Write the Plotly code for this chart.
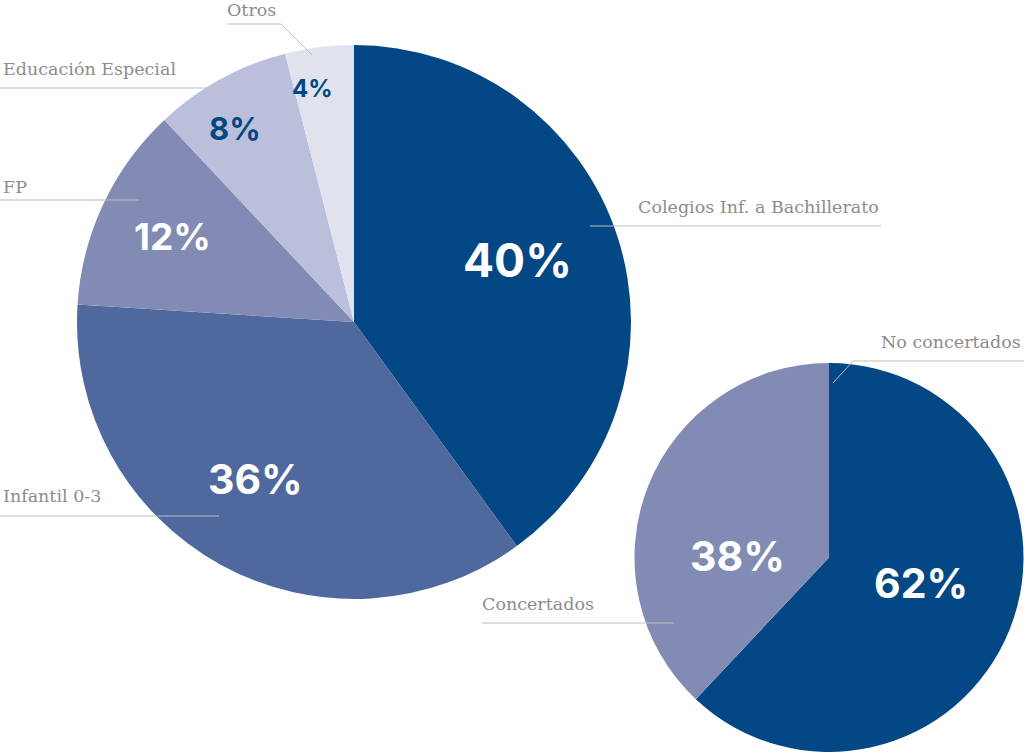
import math
import plotly.graph_objects as go

W, H = 1024, 752

# Data
big_labels = ["Colegios Inf. a Bachillerato", "Infantil 0-3", "FP", "Educación Especial", "Otros"]
big_values = [40, 36, 12, 8, 4]
small_labels = ["No concertados", "Concertados"]
small_values = [62, 38]

# Styles
big_colors = ["#034884", "#4f699e", "#818bb4", "#bcbfdb", "#e0e2ee"]
big_text_colors = ["white", "white", "white", "#034884", "#034884"]
big_text_sizes = [46, 41, 37, 31, 24]
big_text_radius = [0.63, 0.67, 0.725, 0.82, 0.855]     # fraction of pie radius
big_text_angpos = [0.48, 0.525, 0.5, 0.4, 0.3]         # position within slice (0..1)

small_colors = ["#034884", "#818bb4"]
small_text_colors = ["white", "white"]
small_text_sizes = [41, 41]
small_text_radius = [0.49, 0.47]
small_text_angpos = [0.47, 0.35]

PCT_FONT = "Inter"
LBL_FONT = "DejaVu Serif"
LBL_COLOR = "#8c8c8c"
LINE_COLOR = "#bdbdbd"

# Pie geometry in pixels (center, radius)
BIG = dict(cx=354, cy=322, r=277)
SMALL = dict(cx=829, cy=558, r=195)


def px(x):
    return x / W


def py(y):
    return 1 - y / H


fig = go.Figure()

for labels, values, colors, g in [
    (big_labels, big_values, big_colors, BIG),
    (small_labels, small_values, small_colors, SMALL),
]:
    fig.add_trace(go.Pie(
        labels=labels, values=values, sort=False, direction="clockwise", rotation=0,
        marker=dict(colors=colors, line=dict(width=0)),
        textinfo="none",
        domain=dict(x=[px(g["cx"] - g["r"]), min(1, px(g["cx"] + g["r"]))],
                    y=[max(0, py(g["cy"] + g["r"])), py(g["cy"] - g["r"])]),
        showlegend=False, hoverinfo="label+percent",
    ))

annotations = []

# Percentage labels placed along each slice from the data
for values, g, tcols, tsizes, trad, tpos in [
    (big_values, BIG, big_text_colors, big_text_sizes, big_text_radius, big_text_angpos),
    (small_values, SMALL, small_text_colors, small_text_sizes, small_text_radius, small_text_angpos),
]:
    total = sum(values)
    cum = 0
    for v, col, sz, rf, ap in zip(values, tcols, tsizes, trad, tpos):
        ang = 2 * math.pi * (cum + ap * v) / total
        cum += v
        x = g["cx"] + rf * g["r"] * math.sin(ang)
        y = g["cy"] - rf * g["r"] * math.cos(ang)
        annotations.append(dict(
            text=f"{round(100 * v / total)}%", x=px(x), y=py(y), xref="paper", yref="paper",
            xanchor="center", yanchor="middle", showarrow=False,
            font=dict(family=PCT_FONT, size=sz, color=col, weight=700),
        ))

# Category label annotations: (text, x, y, anchor)
label_specs = [
    ("Otros", 226, 10, "left"),
    ("Educación Especial", 2, 69, "left"),
    ("FP", 2, 187, "left"),
    ("Colegios Inf. a Bachillerato", 637, 207, "left"),
    ("Infantil 0-3", 2, 496, "left"),
    ("No concertados", 1022, 342, "right"),
    ("Concertados", 481, 604, "left"),
]
for text, x, y, anc in label_specs:
    annotations.append(dict(
        text=text, x=px(x), y=py(y), xref="paper", yref="paper",
        xanchor=anc, yanchor="middle", showarrow=False, borderpad=0,
        font=dict(family=LBL_FONT, size=17.5, color=LBL_COLOR),
    ))

# Leader lines: polylines in pixel coords
leader_lines = [
    [(227, 24), (281, 24), (312, 55)],
    [(0, 88), (219, 88)],
    [(0, 200), (139, 200)],
    [(590, 226), (881, 226)],
    [(0, 516), (219, 516)],
    [(1024, 361), (853, 361), (833, 383)],
    [(482, 623), (674, 623)],
]
shapes = []
for pts in leader_lines:
    for (x0, y0), (x1, y1) in zip(pts[:-1], pts[1:]):
        shapes.append(dict(
            type="line", xref="paper", yref="paper",
            x0=px(x0), y0=py(y0), x1=px(x1), y1=py(y1),
            line=dict(color=LINE_COLOR, width=1), layer="above",
        ))

fig.update_layout(
    width=W, height=H, margin=dict(l=0, r=0, t=0, b=0),
    paper_bgcolor="white", plot_bgcolor="white",
    annotations=annotations, shapes=shapes,
)

fig.write_html(
    "out.html",
    config={"displayModeBar": False},
    post_script="document.body.style.margin='0';document.body.style.overflow='hidden';",
)
